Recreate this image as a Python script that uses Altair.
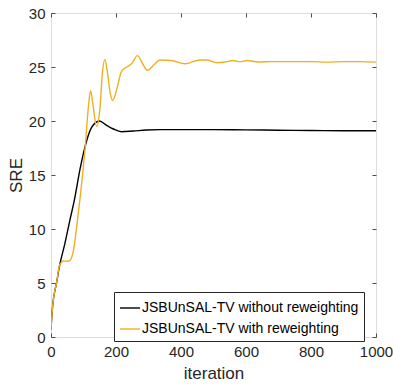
import altair as alt
import pandas as pd

series_names = ["JSBUnSAL-TV without reweighting", "JSBUnSAL-TV with reweighting"]
series_colors = ["#000000", "#EDB120"]

iter_plain = [0, 4, 7, 12, 17, 25, 43, 58, 72, 89, 110, 125, 149, 171, 192, 217,
              253, 294, 335, 400, 500, 600, 700, 800, 900, 1000]
sre_plain = [0.7, 2.5, 3.4, 4.3, 5.0, 6.4, 8.7, 10.8, 12.7, 15.5, 18.2, 19.4, 20.0,
             19.6, 19.26, 19.0, 19.07, 19.17, 19.2, 19.2, 19.2, 19.18, 19.15, 19.12,
             19.1, 19.1]

iter_rew = [0, 4, 7, 12, 17, 25, 32, 38, 48, 58, 69, 79, 90, 97, 105, 115, 122, 130,
            140, 151, 158, 166, 174, 182, 190, 202, 217, 233, 248, 266, 282, 296, 320,
            335, 371, 412, 458, 479, 510, 535, 561, 582, 602, 638, 680, 720, 760, 800,
            850, 900, 950, 1000]
sre_rew = [0.7, 2.5, 3.4, 4.3, 5.0, 6.5, 6.9, 7.04, 7.0, 7.1, 8.0, 10.2, 13.0, 15.0,
           17.5, 21.3, 22.8, 21.3, 19.5, 21.3, 24.4, 25.7, 24.4, 22.6, 21.9, 22.9,
           24.6, 25.0, 25.3, 26.05, 25.3, 24.7, 25.3, 25.65, 25.6, 25.3, 25.65, 25.65,
           25.4, 25.46, 25.6, 25.5, 25.6, 25.46, 25.5, 25.5, 25.5, 25.5, 25.45, 25.5,
           25.5, 25.45]

x_ticks = [0, 200, 400, 600, 800, 1000]
y_ticks = [0, 5, 10, 15, 20, 25, 30]

df = pd.concat([
    pd.DataFrame({"iteration": iter_plain, "SRE": sre_plain, "series": series_names[0]}),
    pd.DataFrame({"iteration": iter_rew, "SRE": sre_rew, "series": series_names[1]}),
], ignore_index=True)

FONT = "Liberation Sans"
AX = "#262626"
FRAME = "#4d4d4d"

xscale = alt.Scale(domain=[0, 1000], nice=False, zero=False)
yscale = alt.Scale(domain=[0, 30], nice=False, zero=False)

lines = alt.Chart(df).mark_line(interpolate="monotone", strokeWidth=1.4, clip=True).encode(
    x=alt.X("iteration:Q", scale=xscale,
            axis=alt.Axis(orient="bottom", values=x_ticks, format="d", title="iteration",
                          grid=False, domain=False, offset=-4, tickSize=4, tickColor=FRAME,
                          labelPadding=7, labelFontSize=15, labelFont=FONT,
                          labelColor=AX, titleFont=FONT, titleFontSize=17,
                          titleFontWeight="normal", titleColor=AX, titlePadding=6,
                          labelFlush=False)),
    y=alt.Y("SRE:Q", scale=yscale,
            axis=alt.Axis(orient="left", values=y_ticks, format="d", title="SRE", grid=False,
                          domain=False, offset=-4, tickSize=4, tickColor=FRAME,
                          labelPadding=6, labelFontSize=15, labelFont=FONT,
                          labelColor=AX, titleFont=FONT, titleFontSize=17,
                          titleFontWeight="normal", titleColor=AX, titlePadding=3,
                          labelFlush=False)),
    color=alt.Color("series:N", scale=alt.Scale(domain=series_names, range=series_colors),
                    legend=alt.Legend(orient="none", legendX=63, legendY=279, title=None,
                                      symbolType="stroke", symbolSize=400,
                                      symbolStrokeWidth=1.4, labelFontSize=14,
                                      labelFont=FONT, labelColor="black",
                                      strokeColor=AX, fillColor="white", padding=5,
                                      labelOffset=1, rowPadding=3, labelLimit=400)),
)

ghost = alt.Chart(df).mark_line(opacity=0).encode(
    x=alt.X("iteration:Q", scale=xscale,
            axis=alt.Axis(orient="top", values=x_ticks, title=None, grid=False,
                          domain=False, labels=False, offset=-4, tickSize=4,
                          tickColor=FRAME)),
    y=alt.Y("SRE:Q", scale=yscale,
            axis=alt.Axis(orient="right", values=y_ticks, title=None, grid=False,
                          domain=False, labels=False, offset=-4, tickSize=4,
                          tickColor=FRAME)),
)

chart = alt.layer(lines, ghost).resolve_axis(x="independent", y="independent").properties(
    width=325, height=324,
    autosize=alt.AutoSizeParams(type="none"),
    padding={"left": 51, "top": 13, "right": 17, "bottom": 47},
).configure_view(stroke=FRAME, strokeWidth=1).configure(background="white")

chart.save("out.html", embed_options={"renderer": "svg", "actions": False})
